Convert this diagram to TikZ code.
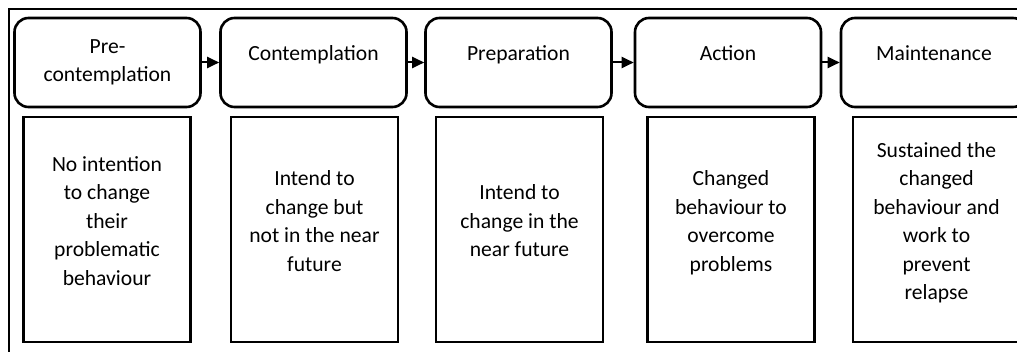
\documentclass[tikz,border=0pt]{standalone}
\usepackage{fontspec}
\setmainfont{Carlito}
\usetikzlibrary{arrows.meta}
\newcommand\liftstack[2]{\raisebox{#1pt}[0pt][0pt]{\begin{tabular}[t]{@{}c@{}}#2\end{tabular}}}
\begin{document}
\begin{tikzpicture}[x=1pt,y=-1pt,
  stagebox/.style={draw, line width=2.6pt, rounded corners=14pt, minimum width=186pt, minimum height=89pt, inner sep=0pt, font=\fontsize{21.6}{28.5}\selectfont},
  descbox/.style={draw, line width=2.6pt, minimum width=167pt, minimum height=225pt, inner sep=0pt, font=\fontsize{21.6}{28.5}\selectfont},
  flow/.style={line width=2pt, -{Triangle[length=12pt,width=11pt]}},
  framebox/.style={draw, line width=1.6pt}]
\useasboundingbox (0,0) rectangle (1017,352);
\clip (0,0) rectangle (1017,352);
\draw[framebox] (9,9) rectangle (1040,380);
% stages
\node[stagebox] (s1) at (107.5,62.5) {\liftstack{9.2}{Pre-\\contemplation}};
\node[stagebox] (s2) at (313.5,62.5) {\liftstack{2}{Contemplation}};
\node[stagebox] (s3) at (518.5,62.5) {\liftstack{2}{Preparation}};
\node[stagebox] (s4) at (728,62.5) {\liftstack{2}{Action}};
\node[stagebox] (s5) at (934,62.5) {\liftstack{2}{Maintenance}};
% descriptions
\node[descbox] (d1) at (107,229.5) {\liftstack{58}{No intention\\to change\\their\\problematic\\behaviour}};
\node[descbox] (d2) at (314.5,229.5) {\liftstack{43.75}{Intend to\\change but\\not in the near\\future}};
\node[descbox] (d3) at (519.5,229.5) {\liftstack{29.5}{Intend to\\change in the\\near future}};
\node[descbox] (d4) at (731,229.5) {\liftstack{43.75}{Changed\\behaviour to\\overcome\\problems}};
\node[descbox] (d5) at (936.5,229.5) {\liftstack{72.25}{Sustained the\\changed\\behaviour and\\work to\\prevent\\relapse}};
% arrows
\draw[flow] (s1.east) -- (s2.west);
\draw[flow] (s2.east) -- (s3.west);
\draw[flow] (s3.east) -- (s4.west);
\draw[flow] (s4.east) -- (s5.west);
\end{tikzpicture}
\end{document}
